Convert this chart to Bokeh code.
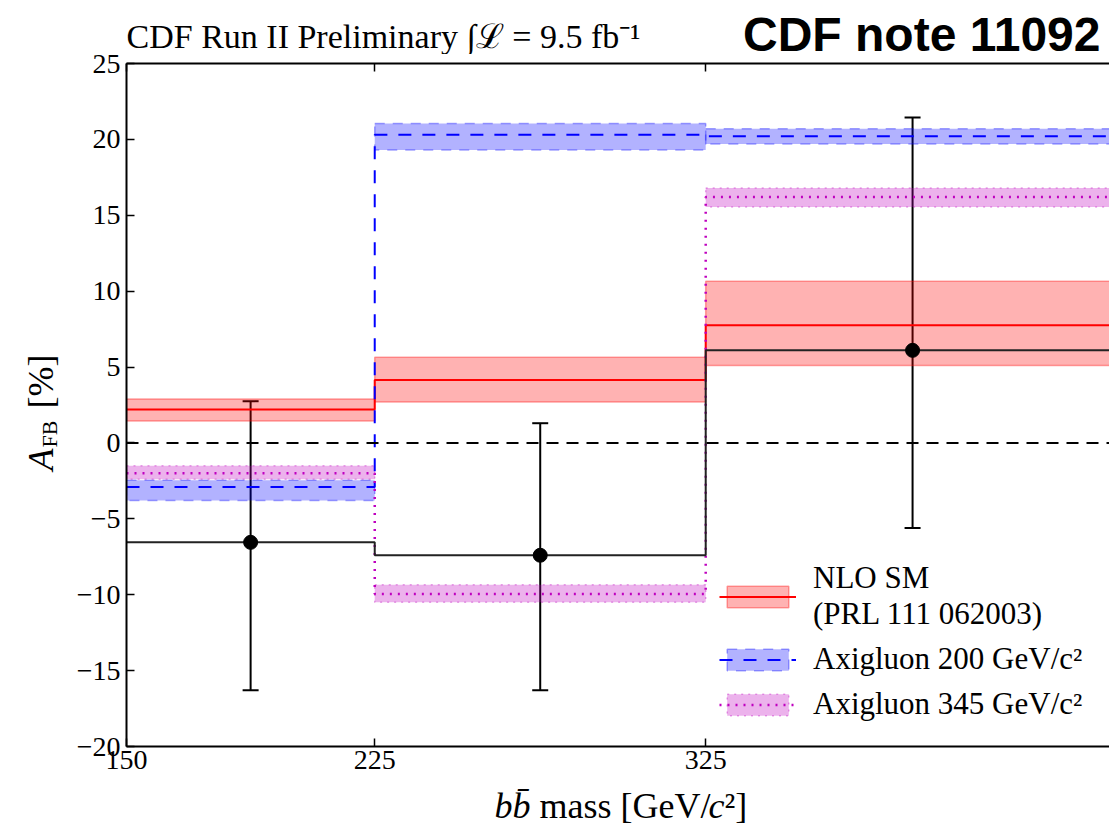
import math
from bokeh.plotting import figure
from bokeh.layouts import row, column
from bokeh.models import (Range1d, LinearAxis, FixedTicker, Span, Label, Legend,
                          LegendItem, ColumnDataSource, Whisker, TeeHead)
from bokeh.embed import file_html
from bokeh.resources import INLINE

# ---------------- data ----------------
bin_edges = [150, 225, 325, 450]
x_ticks = [150, 225, 325]
y_ticks = [-20, -15, -10, -5, 0, 5, 10, 15, 20, 25]

nlo_central = [2.2, 4.15, 7.75]
nlo_low = [1.45, 2.7, 5.1]
nlo_high = [2.9, 5.65, 10.65]

axi200_central = [-2.9, 20.3, 20.2]
axi200_low = [-3.8, 19.3, 19.7]
axi200_high = [-2.45, 21.05, 20.7]

axi345_central = [-2.0, -9.95, 16.2]
axi345_low = [-2.4, -10.5, 15.55]
axi345_high = [-1.5, -9.35, 16.8]

data_x = [187.5, 275, 387.5]
data_y = [-6.55, -7.4, 6.1]
data_err_low = [-16.3, -16.3, -5.6]
data_err_high = [2.75, 1.3, 21.45]

title_text = "CDF Run II Preliminary \u222b\u2112 = 9.5 fb\u207b\u00b9"
note_text = "CDF note 11092"
legend_labels = ["NLO SM\n(PRL 111 062003)", "Axigluon 200 GeV/c\u00b2", "Axigluon 345 GeV/c\u00b2"]

SERIF = "Liberation Serif"

# layout sizes (px)
YLAB_W = 70
RIGHT_W = 1039
LEFT_B = 56
TOP_H = 54
MAIN_H = 730
XLAB_H = 43
TOTAL_H = TOP_H + MAIN_H + XLAB_H


def step_xy(vals):
    xs, ys = [], []
    for i, v in enumerate(vals):
        xs += [bin_edges[i], bin_edges[i + 1]]
        ys += [v, v]
    return xs, ys


# ---------------- main plot ----------------
p = figure(width=RIGHT_W, height=MAIN_H, x_range=Range1d(150, 447), y_range=Range1d(-20, 25),
           output_backend="svg", toolbar_location=None,
           min_border_left=LEFT_B, min_border_right=0, min_border_top=9, min_border_bottom=38)
p.outline_line_color = None
p.xgrid.visible = False
p.ygrid.visible = False

for ax in [p.xaxis[0], p.yaxis[0]]:
    ax.major_tick_in = 8
    ax.major_tick_out = 0
    ax.minor_tick_line_color = None
    ax.axis_line_width = 2
    ax.axis_line_color = "black"
    ax.major_tick_line_width = 1.5
    ax.major_label_text_font = SERIF
    ax.major_label_text_font_size = "28px"
    ax.major_label_text_color = "black"

p.xaxis.ticker = FixedTicker(ticks=x_ticks)
p.yaxis.ticker = FixedTicker(ticks=y_ticks)
p.xaxis.major_label_overrides = {t: str(t) for t in x_ticks}
p.yaxis.major_label_overrides = {t: str(t).replace("-", "\u2212") for t in y_ticks}
p.xaxis.major_label_standoff = 4
p.yaxis.major_label_standoff = 6

top_axis = LinearAxis(ticker=FixedTicker(ticks=x_ticks), major_tick_in=8, major_tick_out=0,
                      minor_tick_line_color=None, axis_line_width=2, major_tick_line_width=1.5,
                      major_label_overrides={t: "" for t in x_ticks},
                      major_label_text_font_size="1px", major_label_standoff=0)
p.add_layout(top_axis, "above")

p.add_layout(Span(location=0, dimension="width", line_color="black", line_width=2,
                  line_dash="12 8"))

red = "#FF0000"
blue = "#0000FF"
mag = "#BF00BF"


def band(low, high, color, dash):
    src = ColumnDataSource(dict(left=bin_edges[:-1], right=bin_edges[1:], bottom=low, top=high))
    return p.quad(left="left", right="right", bottom="bottom", top="top", source=src,
                  fill_color=color, fill_alpha=0.3, line_color=color, line_alpha=0.35,
                  line_width=1.5, line_dash=dash)


b_nlo = band(nlo_low, nlo_high, red, "solid")
b_200 = band(axi200_low, axi200_high, blue, "10 8")
b_345 = band(axi345_low, axi345_high, mag, "2 5")

xs, ys = step_xy(nlo_central)
l_nlo = p.line(xs, ys, line_color=red, line_width=2)
xs, ys = step_xy(axi200_central)
l_200 = p.line(xs, ys, line_color=blue, line_width=2, line_dash="13 11")
xs, ys = step_xy(axi345_central)
l_345 = p.line(xs, ys, line_color=mag, line_width=2.5, line_dash="2 6")

xs, ys = step_xy(data_y)
p.line(xs, ys, line_color="#222222", line_width=2)
esrc = ColumnDataSource(dict(x=data_x, lo=data_err_low, hi=data_err_high))
p.add_layout(Whisker(source=esrc, base="x", lower="lo", upper="hi", dimension="height",
                     line_color="black", line_width=2,
                     upper_head=TeeHead(size=16, line_width=2, line_color="black"),
                     lower_head=TeeHead(size=16, line_width=2, line_color="black")))
p.scatter(data_x, data_y, size=14, color="black")

legend = Legend(items=[
    LegendItem(label=legend_labels[0], renderers=[b_nlo, l_nlo]),
    LegendItem(label=legend_labels[1], renderers=[b_200, l_200]),
    LegendItem(label=legend_labels[2], renderers=[b_345, l_345]),
], location=(593, 24))
legend.border_line_color = None
legend.background_fill_alpha = 0
legend.label_text_font = SERIF
legend.label_text_font_size = "31px"
legend.label_text_color = "black"
legend.glyph_width = 77
legend.glyph_height = 27
legend.label_standoff = 17
legend.spacing = 9
legend.padding = 0
legend.margin = 0
legend.label_text_line_height = 1.05
p.add_layout(legend)


# ---------------- text panels ----------------
def lab(f, h, text, x, y_from_top, size, style="normal", font=SERIF, align="left",
        base="alphabetic", angle=0.0):
    f.add_layout(Label(x=x, y=h - y_from_top, text=text, text_font=font, text_font_size=size,
                       text_font_style=style, text_align=align, text_baseline=base,
                       angle=angle, text_color="black"))


top_f = figure(width=RIGHT_W, height=TOP_H, x_range=Range1d(LEFT_B, RIGHT_W), y_range=Range1d(0, TOP_H),
               output_backend="svg", toolbar_location=None, x_axis_type=None, y_axis_type=None,
               min_border_left=LEFT_B, min_border_right=0, min_border_top=0, min_border_bottom=0)
top_f.outline_line_color = None
# rendered baseline sits ~0.33 em below the anchor; anchors compensate
lab(top_f, TOP_H, title_text, 56, 36, "34px")
lab(top_f, TOP_H, note_text, 1030, 34, "48px", style="bold", font="Liberation Sans", align="right")

xlab_f = figure(width=RIGHT_W, height=XLAB_H, x_range=Range1d(LEFT_B, RIGHT_W), y_range=Range1d(0, XLAB_H),
                output_backend="svg", toolbar_location=None, x_axis_type=None, y_axis_type=None,
                min_border_left=LEFT_B, min_border_right=0, min_border_top=0, min_border_bottom=0)
xlab_f.outline_line_color = None
xb = 21
lab(xlab_f, XLAB_H, "bb\u0304", 424, xb, "36px", style="italic")
lab(xlab_f, XLAB_H, "mass [GeV/", 469, xb, "36px")
lab(xlab_f, XLAB_H, "c", 638, xb, "36px", style="italic")
lab(xlab_f, XLAB_H, "\u00b2]", 654, xb, "36px")

ylab_f = figure(width=YLAB_W, height=TOTAL_H, x_range=Range1d(0, YLAB_W), y_range=Range1d(0, TOTAL_H),
                output_backend="svg", toolbar_location=None, x_axis_type=None, y_axis_type=None,
                min_border=0)
ylab_f.outline_line_color = None
ang = math.pi / 2
lab(ylab_f, TOTAL_H, "A", 40, 470, "36px", style="italic", base="middle", angle=ang)
lab(ylab_f, TOTAL_H, "FB", 49, 447, "22px", base="middle", angle=ang)
lab(ylab_f, TOTAL_H, "[%]", 40, 408, "36px", base="middle", angle=ang)

layout = row(ylab_f, column(top_f, p, xlab_f, spacing=0), spacing=0)

open("out.html", "w").write(file_html(layout, INLINE))
